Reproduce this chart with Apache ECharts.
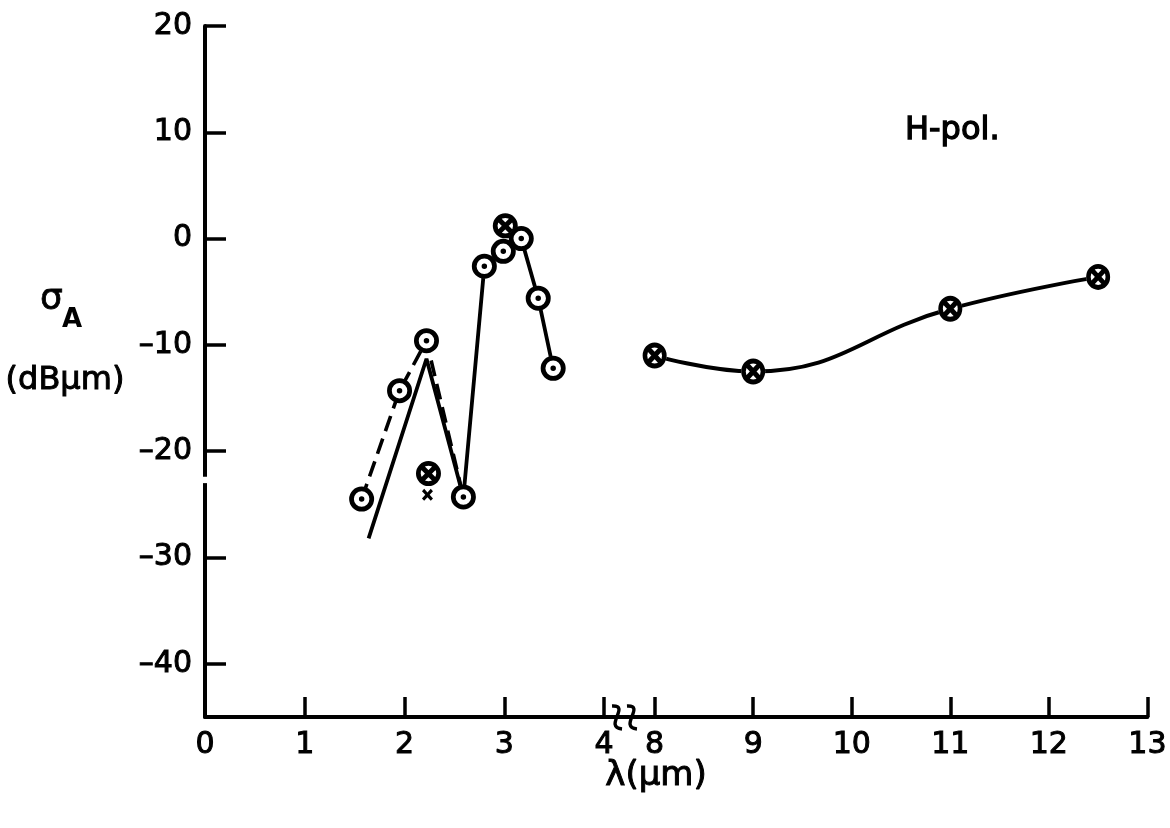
<!DOCTYPE html>
<html>
<head>
<meta charset="utf-8">
<title>Absorption cross-section, H-pol.</title>
<script src="https://cdn.jsdelivr.net/npm/echarts@6/dist/echarts.min.js"></script>
<style>
  html, body { margin: 0; padding: 0; background: #fff; }
  #chart { width: 1170px; height: 828px; }
</style>
</head>
<body>
<div id="chart"></div>
<script>
// ---- data (wavelength in µm, sigma_A in dB·µm) ----
const xLeftTicks  = [0, 1, 2, 3, 4];
const xRightTicks = [8, 9, 10, 11, 12, 13];
const yTicks      = [20, 10, 0, -10, -20, -30, -40];

// solid trace, short-wave band
const solidLam = [1.64, 2.22, 2.59, 2.80, 2.99, 3.17, 3.34, 3.49];
const solidSig = [-28.2, -11.3, -24.3, -2.6, -1.2, 0.0, -5.6, -12.2];

// dashed trace, short-wave band
const dashLam = [1.57, 1.95, 2.22, 2.59];
const dashSig = [-24.5, -14.3, -9.6, -24.3];

// open circles with centre dot
const dotLam = [1.57, 1.95, 2.22, 2.59, 2.80, 2.99, 3.17, 3.34, 3.49];
const dotSig = [-24.5, -14.3, -9.6, -24.3, -2.6, -1.2, 0.0, -5.6, -12.2];

// crossed circles, short-wave band
const crossLam = [2.24, 3.01];
const crossSig = [-22.1, 1.2];

// small cross
const xMarkLam = [2.23];
const xMarkSig = [-24.1];

// long-wave band, crossed circles on a smooth curve
const longLam = [8, 9, 11, 12.5];
const longSig = [-11.0, -12.5, -6.6, -3.6];

// ---- helpers ----
const INK = '#000';
const FONT = 'DejaVu Sans';
const pairs = (xs, ys) => xs.map((x, i) => [x, ys[i]]);

const OUTER = 'M0 50A50 50 0 1 1 100 50A50 50 0 1 1 0 50Z';
const INNER = 'M19 50A31 31 0 1 0 81 50A31 31 0 1 0 19 50Z';
const RING_DOT = 'path://' + OUTER + INNER + 'M39 50A11 11 0 1 1 61 50A11 11 0 1 1 39 50Z';
const RING_X = 'path://' + OUTER + INNER +
  'M31.6 17.5L82.5 68.4L68.4 82.5L17.5 31.6Z' +
  'M68.4 17.5L82.5 31.6L31.6 82.5L17.5 68.4Z';
const SMALL_X = 'path://M0 20L20 0L50 30L80 0L100 20L70 50L100 80L80 100L50 70L20 100L0 80L30 50Z';

const labelStyle = {
  color: INK, fontFamily: FONT, fontSize: 30,
  textBorderColor: INK, textBorderWidth: 1.0
};
const fmt = v => (v < 0 ? '\u2013' + Math.abs(v) : String(v));

function xAxisDef(gridIndex, min, max, ticks) {
  return {
    type: 'value', gridIndex, min, max,
    axisLine: { show: true, onZero: false, lineStyle: { color: INK, width: 4 } },
    axisTick: { show: true, inside: true, length: 20, customValues: ticks,
                lineStyle: { color: INK, width: 3.5 } },
    axisLabel: Object.assign({ show: true, margin: 13, customValues: ticks, formatter: fmt }, labelStyle),
    splitLine: { show: false }
  };
}

function disc(gridIndex, data, size, z) {
  return { type: 'scatter', xAxisIndex: gridIndex, yAxisIndex: gridIndex, data,
           symbol: 'circle', symbolSize: size, z, silent: true,
           itemStyle: { color: '#fff', opacity: 1 } };
}
function glyph(gridIndex, data, symbol, size, z) {
  return { type: 'scatter', xAxisIndex: gridIndex, yAxisIndex: gridIndex, data,
           symbol, symbolSize: size, z, silent: true,
           itemStyle: { color: INK, opacity: 1 } };
}

const chart = echarts.init(document.getElementById('chart'), null, { renderer: 'canvas' });

const option = {
  animation: false,
  backgroundColor: '#fff',
  grid: [
    { left: 205, top: 26, width: 424, height: 691 },
    { left: 630, top: 26, width: 517.5, height: 691 }
  ],
  xAxis: [
    xAxisDef(0, 0, 4.25, xLeftTicks),
    xAxisDef(1, 7.75, 13, xRightTicks)
  ],
  yAxis: [
    {
      type: 'value', gridIndex: 0, min: -45, max: 20,
      axisLine: { show: true, onZero: false, lineStyle: { color: INK, width: 4 } },
      axisTick: { show: true, inside: true, length: 21, customValues: yTicks,
                  lineStyle: { color: INK, width: 3.5 } },
      axisLabel: Object.assign({ show: true, margin: 13, customValues: yTicks, formatter: fmt }, labelStyle),
      splitLine: { show: false }
    },
    { type: 'value', gridIndex: 1, min: -45, max: 20, show: false }
  ],
  series: [
    { type: 'line', xAxisIndex: 0, yAxisIndex: 0, data: pairs(solidLam, solidSig),
      showSymbol: false, z: 2, lineStyle: { color: INK, width: 3.8 } },
    { type: 'line', xAxisIndex: 0, yAxisIndex: 0, data: pairs(dashLam, dashSig),
      showSymbol: false, z: 2, lineStyle: { color: INK, width: 3.6, type: [16, 8] } },
    { type: 'line', xAxisIndex: 1, yAxisIndex: 1, data: pairs(longLam, longSig),
      showSymbol: false, smooth: 0.45, z: 2, lineStyle: { color: INK, width: 4 } },

    disc(0, pairs(crossLam, crossSig), 24, 3),
    glyph(0, pairs(crossLam, crossSig), RING_X, [25, 25], 4),
    glyph(0, pairs(xMarkLam, xMarkSig), SMALL_X, [11, 12], 4),
    disc(0, pairs(dotLam, dotSig), 24, 5),
    glyph(0, pairs(dotLam, dotSig), RING_DOT, [25, 25], 6),

    disc(1, pairs(longLam, longSig), 24, 3),
    glyph(1, pairs(longLam, longSig), RING_X, [24, 26], 4)
  ]
};

chart.setOption(option);

// ---- annotations: axis break, titles ----
const px = (xi, v) => chart.convertToPixel({ xAxisIndex: xi }, v);
const py = v => chart.convertToPixel({ yAxisIndex: 0 }, v);
const baseY = py(-45);
const squiggle = x => ({
  type: 'bezierCurve', silent: true, z: 10,
  shape: { x1: x - 5, y1: baseY - 11, cpx1: x + 14, cpy1: baseY - 12,
           cpx2: x - 14, cpy2: baseY + 10, x2: x + 5, y2: baseY + 12 },
  style: { stroke: INK, lineWidth: 3.4, fill: null }
});
const axisX = px(0, 0);

chart.setOption({
  graphic: [
    squiggle(px(0, 4.13)),
    squiggle(px(1, 7.77)),
    { type: 'rect', silent: true, z: 10,
      shape: { x: axisX - 4, y: py(-22.4), width: 8, height: py(-23.0) - py(-22.4) },
      style: { fill: '#fff' } },
    { type: 'text', silent: true, z: 10, x: 40, y: 300,
      style: { text: '\u03c3', fontFamily: FONT, fontSize: 36, fill: INK,
               stroke: INK, lineWidth: 0.8, verticalAlign: 'middle', align: 'left' } },
    { type: 'text', silent: true, z: 10, x: 62, y: 320,
      style: { text: 'A', fontFamily: FONT, fontSize: 26, fontWeight: 'bold', fill: INK,
               verticalAlign: 'middle', align: 'left' } },
    { type: 'text', silent: true, z: 10, x: 65, y: 381,
      style: { text: '(dB\u03bcm)', fontFamily: FONT, fontSize: 32, fill: INK,
               stroke: INK, lineWidth: 1.0, verticalAlign: 'middle', align: 'center' } },
    { type: 'text', silent: true, z: 10, x: 905, y: 131,
      style: { text: 'H-pol.', fontFamily: FONT, fontSize: 32, fill: INK,
               stroke: INK, lineWidth: 1.3, verticalAlign: 'middle', align: 'left' } },
    { type: 'text', silent: true, z: 10, x: 656, y: 776,
      style: { text: '\u03bb(\u03bcm)', fontFamily: FONT, fontSize: 34, fill: INK,
               stroke: INK, lineWidth: 1.0, verticalAlign: 'middle', align: 'center' } }
  ]
});
</script>
</body>
</html>
